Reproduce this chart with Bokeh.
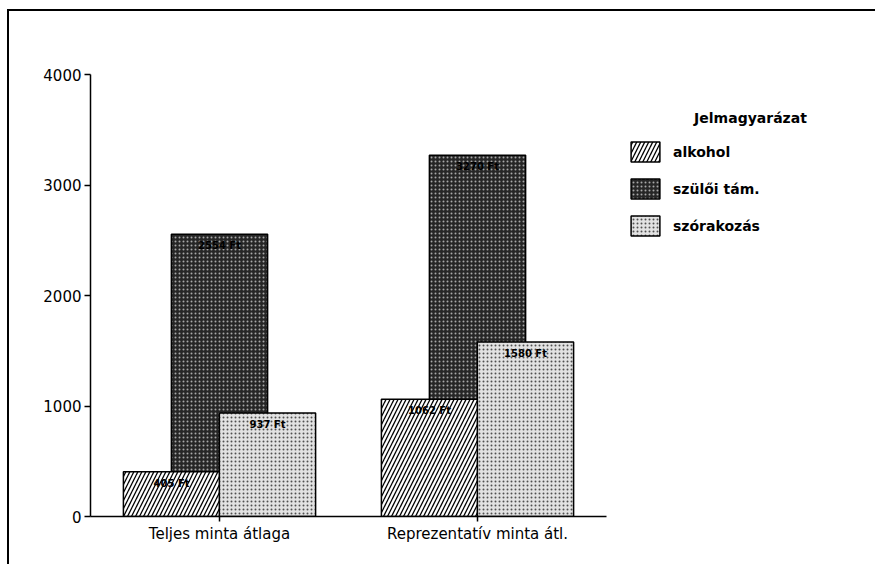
from bokeh.plotting import figure
from bokeh.models import (Range1d, ColumnDataSource, Legend, LegendItem,
                          Label, FixedTicker)
from bokeh.core.properties import value
from bokeh.embed import file_html
from bokeh.resources import INLINE

categories = ["Teljes minta átlaga", "Reprezentatív minta átl."]
alkohol = [405, 1062]
szuloi = [2554, 3270]
szorakozas = [937, 1580]
series_names = ["alkohol", "szülői tám.", "szórakozás"]
y_ticks = [0, 1000, 2000, 3000, 4000]
legend_title = "Jelmagyarázat"

FONT = "DejaVu Sans"

def lab(vals):
    return [f"{v} Ft" for v in vals]

W = 0.373   # bar width in category units
OFF = 0.186 # offset of side bars
pos = [i + 0.5 for i in range(len(categories))]

src = ColumnDataSource(dict(
    x_c=pos,
    x_l=[x - OFF for x in pos],
    x_r=[x + OFF for x in pos],
    alkohol=alkohol, szuloi=szuloi, szorakozas=szorakozas,
    l_alk=lab(alkohol), l_sz=lab(szuloi), l_szor=lab(szorakozas),
))

FRAME_W = 775
UNIT_PX = 258
x_end = FRAME_W / UNIT_PX

p = figure(x_range=Range1d(0, x_end), y_range=Range1d(0, 4000),
           frame_width=FRAME_W, frame_height=442,
           output_backend="svg", toolbar_location=None,
           min_border_left=81, min_border_right=10,
           min_border_top=63, min_border_bottom=48,
           styles={"margin-left": "7px", "margin-top": "9px",
                   "border-left": "2px solid black", "border-top": "2px solid black"})

p.outline_line_color = None
p.xgrid.grid_line_color = None
p.ygrid.grid_line_color = None

r_sz = p.vbar(x="x_c", top="szuloi", width=W, source=src,
              fill_color="#262626", line_color="black", line_width=1.5,
              hatch_pattern="dot", hatch_color="#a8a8a8", hatch_scale=4, hatch_weight=1)
r_alk = p.vbar(x="x_l", top="alkohol", width=W, source=src,
               fill_color="white", line_color="black", line_width=1.5,
               hatch_pattern="/", hatch_color="black", hatch_scale=8, hatch_weight=1.3)
r_szor = p.vbar(x="x_r", top="szorakozas", width=W, source=src,
                fill_color="#e2e2e2", line_color="black", line_width=1.5,
                hatch_pattern="dot", hatch_color="#505050", hatch_scale=4, hatch_weight=1)

for col, lcol, xcol in [("szuloi", "l_sz", "x_c"), ("alkohol", "l_alk", "x_l"),
                        ("szorakozas", "l_szor", "x_r")]:
    p.text(x=xcol, y=col, text=lcol, source=src,
           text_align="center", text_baseline="top", y_offset=6,
           text_font=value(FONT), text_font_size="10px", text_font_style="bold",
           text_color="black")

# y axis
p.yaxis.ticker = FixedTicker(ticks=y_ticks)
p.yaxis.major_tick_out = 6
p.yaxis.major_tick_in = 0
p.yaxis.minor_tick_line_color = None
p.yaxis.axis_line_width = 1.5
p.yaxis.major_tick_line_width = 1.5
p.yaxis.major_label_text_font = FONT
p.yaxis.major_label_text_font_size = "15px"
p.yaxis.major_label_text_color = "black"
p.yaxis.major_label_standoff = 3

# x axis (category labels at category centres, line limited to the categories)
p.xaxis.ticker = FixedTicker(ticks=pos)
p.xaxis.major_label_overrides = {x: c for x, c in zip(pos, categories)}
p.xaxis.bounds = (0, len(categories))
p.xaxis.minor_tick_line_color = None
p.xaxis.major_tick_out = 5
p.xaxis.major_tick_in = 0
p.xaxis.axis_line_width = 1.5
p.xaxis.major_tick_line_width = 1.5
p.xaxis.major_label_text_font = FONT
p.xaxis.major_label_text_font_size = "15px"
p.xaxis.major_label_text_color = "black"
p.xaxis.major_label_standoff = 3

legend = Legend(items=[LegendItem(label=series_names[0], renderers=[r_alk]),
                       LegendItem(label=series_names[1], renderers=[r_sz]),
                       LegendItem(label=series_names[2], renderers=[r_szor])],
                location=(537, 278), orientation="vertical",
                glyph_width=36, glyph_height=25, spacing=12, label_standoff=10,
                label_text_font=FONT, label_text_font_size="14px",
                label_text_font_style="bold", label_text_color="black",
                label_height=25,
                margin=0, padding=0, border_line_color=None, background_fill_alpha=0)
p.add_layout(legend)

p.add_layout(Label(x=660 / UNIT_PX, y=3602, text=legend_title,
                   text_align="center", text_baseline="middle",
                   text_font=FONT, text_font_size="14px", text_font_style="bold",
                   text_color="black"))

open("out.html", "w").write(file_html(p, INLINE))
